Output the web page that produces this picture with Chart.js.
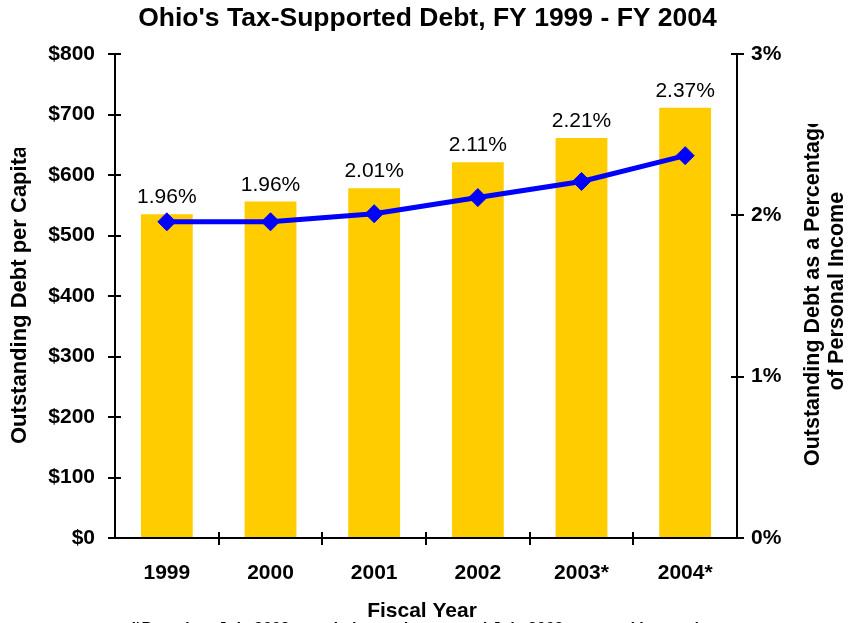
<!DOCTYPE html>
<html>
<head>
<meta charset="utf-8">
<script src="https://cdn.jsdelivr.net/npm/chart.js@4/dist/chart.umd.min.js"></script>
<style>
  html, body { margin: 0; padding: 0; background: #ffffff; }
  #wrap { width: 855px; height: 623px; }
</style>
</head>
<body>
<div id="wrap"><canvas id="debtChart" width="855" height="623"></canvas></div>
<script>
// Fiscal years shown on the category axis
const fiscalYears = ['1999', '2000', '2001', '2002', '2003*', '2004*'];
// Outstanding tax-supported debt per capita (dollars)
const debtPerCapita = [535, 556, 578, 621, 661, 711];
// Outstanding debt as a percentage of personal income
const debtPctIncome = [1.96, 1.96, 2.01, 2.11, 2.21, 2.37];
// Axis ranges / tick steps
const dollarAxis = { min: 0, max: 800, step: 100 };
const pctAxis = { min: 0, max: 3, step: 1 };

const FONT = '"Liberation Sans", Arial, Helvetica, sans-serif';
const BAR_COLOR = '#FFCC00';
const LINE_COLOR = '#0000FF';

// Axis lines, crossing tick marks, axis titles, value labels and footnote
const decorations = {
  id: 'decorations',
  afterDatasetsDraw(chart) {
    const ctx = chart.ctx;
    const x = chart.scales.x, y = chart.scales.y, y1 = chart.scales.y1;
    const top = chart.chartArea.top, bottom = chart.chartArea.bottom;
    const left = chart.chartArea.left, right = chart.chartArea.right;

    ctx.save();
    ctx.strokeStyle = '#000';
    ctx.lineWidth = 2;
    ctx.lineCap = 'butt';
    ctx.beginPath();
    // left axis
    ctx.moveTo(left, top); ctx.lineTo(left, bottom);
    // right axis
    ctx.moveTo(right, top); ctx.lineTo(right, bottom);
    // category axis
    ctx.moveTo(left - 6, bottom); ctx.lineTo(right + 6, bottom);
    // left ticks
    y.ticks.forEach(t => {
      const py = Math.round(y.getPixelForValue(t.value));
      ctx.moveTo(left - 7, py); ctx.lineTo(left + 6, py);
    });
    // right ticks
    y1.ticks.forEach(t => {
      const py = Math.round(y1.getPixelForValue(t.value));
      ctx.moveTo(right - 6, py); ctx.lineTo(right + 7, py);
    });
    // category boundary ticks
    const n = fiscalYears.length;
    const w = (x.right - x.left) / n;
    for (let i = 1; i < n; i++) {
      const px = Math.round(x.left + i * w);
      ctx.moveTo(px, bottom - 6); ctx.lineTo(px, bottom + 7);
    }
    ctx.stroke();

    // percentage labels above each bar
    const barMeta = chart.getDatasetMeta(chart.data.datasets.findIndex(d => d.type === 'bar'));
    ctx.fillStyle = '#000';
    ctx.font = '21px ' + FONT;
    ctx.textAlign = 'center';
    ctx.textBaseline = 'alphabetic';
    barMeta.data.forEach((bar, i) => {
      ctx.fillText(debtPctIncome[i].toFixed(2) + '%', bar.x, bar.y - 11);
    });

    // left axis title (truncated at its box)
    ctx.font = 'bold 22px ' + FONT;
    ctx.save();
    ctx.beginPath();
    ctx.rect(0, 148, 60, 460);
    ctx.clip();
    ctx.translate(26, 444);
    ctx.rotate(-Math.PI / 2);
    ctx.textAlign = 'left';
    ctx.textBaseline = 'alphabetic';
    ctx.fillText('Outstanding Debt per Capita', 0, 0);
    ctx.restore();

    // right axis title, two lines (first line truncated at its box)
    ctx.font = 'bold 21.5px ' + FONT;
    ctx.save();
    ctx.beginPath();
    ctx.rect(790, 124, 65, 480);
    ctx.clip();
    ctx.textAlign = 'center';
    ctx.textBaseline = 'alphabetic';
    ctx.translate(819, 291);
    ctx.rotate(-Math.PI / 2);
    ctx.fillText('Outstanding Debt as a Percentage', 0, 0);
    ctx.fillText('of Personal Income', 0, 24);
    ctx.restore();

    // category axis title
    ctx.font = 'bold 21px ' + FONT;
    ctx.textAlign = 'center';
    ctx.textBaseline = 'alphabetic';
    ctx.fillText('Fiscal Year', 422, 617);

    // footnote, running off the bottom edge
    ctx.font = 'italic bold 16px ' + FONT;
    ctx.fillText('(*Based on July 2003 population estimates and July 2003 personal income)', 414, 634);
    ctx.restore();
  }
};

new Chart(document.getElementById('debtChart'), {
  data: {
    labels: fiscalYears,
    datasets: [
      {
        type: 'line',
        label: 'Debt as % of Personal Income',
        data: debtPctIncome,
        yAxisID: 'y1',
        borderColor: LINE_COLOR,
        backgroundColor: LINE_COLOR,
        borderWidth: 5,
        tension: 0,
        pointStyle: 'rectRot',
        pointRadius: 9,
        pointBorderWidth: 1,
        pointBackgroundColor: LINE_COLOR,
        pointBorderColor: LINE_COLOR,
        order: 0
      },
      {
        type: 'bar',
        label: 'Debt per Capita',
        data: debtPerCapita,
        yAxisID: 'y',
        backgroundColor: BAR_COLOR,
        borderWidth: 0,
        categoryPercentage: 1.0,
        barPercentage: 0.5,
        order: 1
      }
    ]
  },
  options: {
    responsive: false,
    devicePixelRatio: 1,
    animation: false,
    layout: { padding: 0 },
    plugins: {
      legend: { display: false },
      tooltip: { enabled: false },
      title: {
        display: true,
        text: "Ohio's Tax-Supported Debt, FY 1999 - FY 2004",
        color: '#000',
        font: { family: FONT, size: 26.5, weight: 'bold', lineHeight: 1.2 },
        padding: { top: 3, bottom: 19.2 }
      }
    },
    scales: {
      x: {
        type: 'category',
        offset: true,
        grid: { display: false },
        border: { display: false },
        ticks: {
          color: '#000',
          font: { family: FONT, size: 21, weight: 'bold' },
          padding: 15,
          maxRotation: 0
        },
        afterFit(s) { s.height = 85; }
      },
      y: {
        type: 'linear',
        position: 'left',
        min: dollarAxis.min,
        max: dollarAxis.max,
        grid: { display: false, drawTicks: false },
        border: { display: false },
        ticks: {
          stepSize: dollarAxis.step,
          color: '#000',
          font: { family: FONT, size: 21, weight: 'bold' },
          padding: 20,
          callback: v => '$' + v
        },
        afterFit(s) { s.width = 115; }
      },
      y1: {
        type: 'linear',
        position: 'right',
        min: pctAxis.min,
        max: pctAxis.max,
        grid: { display: false, drawTicks: false },
        border: { display: false },
        ticks: {
          stepSize: pctAxis.step,
          color: '#000',
          font: { family: FONT, size: 21, weight: 'bold' },
          padding: 14,
          callback: v => v + '%'
        },
        afterFit(s) { s.width = 118; }
      }
    }
  },
  plugins: [decorations]
});
</script>
</body>
</html>
